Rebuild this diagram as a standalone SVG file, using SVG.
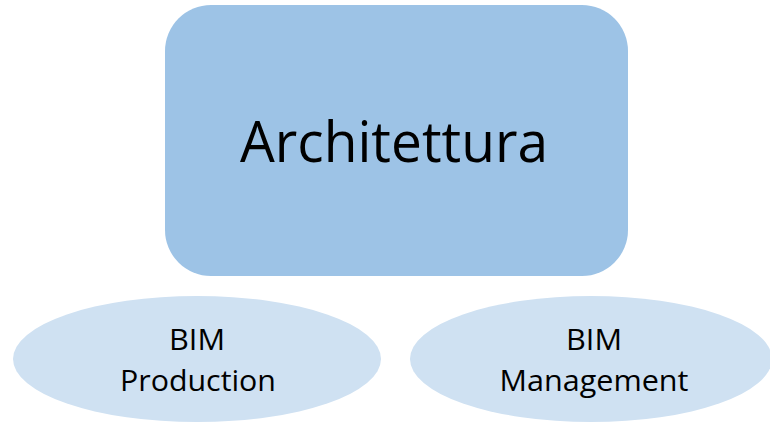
<svg xmlns="http://www.w3.org/2000/svg" width="770" height="423" viewBox="0 0 770 423">
<style>
text{font-family:"Open Sans","Liberation Sans",sans-serif;fill:#000;text-anchor:middle}
.big{font-size:56px}
.sm{font-size:29px}
.ell{fill:#CFE1F2}
</style>
<rect width="770" height="423" fill="#fff"/>
<g id="architettura">
<rect x="165" y="5" width="463" height="271" rx="46" ry="46" fill="#9DC3E6"/>
<text class="big" x="394" y="162" textLength="308" lengthAdjust="spacingAndGlyphs">Architettura</text>
</g>
<g id="bim-production">
<ellipse class="ell" cx="197" cy="359" rx="184" ry="63"/>
<text class="sm" x="197" y="350" textLength="56" lengthAdjust="spacingAndGlyphs">BIM</text>
<text class="sm" x="198" y="391" textLength="156" lengthAdjust="spacingAndGlyphs">Production</text>
</g>
<g id="bim-management">
<ellipse class="ell" cx="591" cy="359" rx="181" ry="63"/>
<text class="sm" x="594" y="350" textLength="56" lengthAdjust="spacingAndGlyphs">BIM</text>
<text class="sm" x="594" y="391" textLength="189" lengthAdjust="spacingAndGlyphs">Management</text>
</g>
<g id="connectors"/>
</svg>
